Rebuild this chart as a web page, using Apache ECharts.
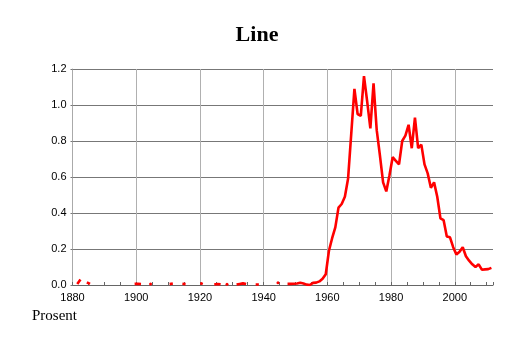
<!DOCTYPE html>
<html><head><meta charset="utf-8">
<script src="https://cdn.jsdelivr.net/npm/echarts@6/dist/echarts.min.js"></script>
<style>html,body{margin:0;padding:0;background:#fff}#c{width:514px;height:343px}</style>
</head><body><div id="c"></div>
<script>
const chartTitle = 'Line';
const unitLabel = 'Prosent';
const xTickLabels = [1880, 1900, 1920, 1940, 1960, 1980, 2000];
const yTickLabels = ['0.0', '0.2', '0.4', '0.6', '0.8', '1.0', '1.2'];
const firstYear = 1880;
const lastYear = 2011;
// sparse early observations (gaps = missing years)
const earlyYears  = [1881, 1882, 1884, 1885, 1899, 1900, 1901, 1904, 1910, 1911, 1914, 1915, 1920, 1924, 1925, 1926, 1928, 1931, 1932, 1933, 1934, 1937, 1938, 1944];
const earlyValues = [0.005, 0.03, 0.015, 0.006, 0.006, 0.007, 0.005, 0.005, 0.005, 0.008, 0.007, 0.005, 0.008, 0.003, 0.006, 0.004, 0.004, 0.003, 0.006, 0.009, 0.005, 0.003, 0.003, 0.012];
// continuous series from 1947 to 2011
const mainStartYear = 1947;
const mainValues = [
  0.006, 0.006, 0.007, 0.008, 0.012, 0.008, 0.002, 0.0, 0.012,        // 1947-1955
  0.013, 0.02, 0.035, 0.06, 0.19, 0.26, 0.32, 0.43, 0.45, 0.49,       // 1956-1965
  0.59, 0.84, 1.09, 0.95, 0.94, 1.16, 1.02, 0.87, 1.12, 0.86,         // 1966-1975
  0.72, 0.57, 0.52, 0.61, 0.71, 0.69, 0.67, 0.80, 0.83, 0.89,         // 1976-1985
  0.76, 0.93, 0.76, 0.78, 0.67, 0.62, 0.54, 0.57, 0.49, 0.37,         // 1986-1995
  0.36, 0.27, 0.265, 0.21, 0.17, 0.185, 0.21, 0.16, 0.135, 0.115,     // 1996-2005
  0.10, 0.115, 0.085, 0.087, 0.088, 0.095                             // 2006-2011
];

const valueByYear = new Map();
earlyYears.forEach((y, i) => valueByYear.set(y, earlyValues[i]));
mainValues.forEach((v, i) => valueByYear.set(mainStartYear + i, v));

const seriesData = [];
for (let y = firstYear; y <= lastYear; y++) {
  const x = y + 0.5; // observation plotted at mid-year
  if (!valueByYear.has(y)) { seriesData.push({ value: [x, '-'] }); continue; }
  const isolated = !valueByYear.has(y - 1) && !valueByYear.has(y + 1);
  const item = { value: [x, valueByYear.get(y)] };
  if (isolated) { item.symbol = 'circle'; item.symbolSize = 3; }
  seriesData.push(item);
}

const vGridColors = xTickLabels.map(() => '#b0b0b0').concat(['rgba(0,0,0,0)']);

const chart = echarts.init(document.getElementById('c'), null, { renderer: 'canvas' });
chart.setOption({
  animation: false,
  backgroundColor: '#fff',
  title: {
    text: chartTitle, left: 'center', top: 19,
    textStyle: { fontFamily: 'Liberation Serif', fontWeight: 'bold', fontSize: 22, color: '#000' }
  },
  graphic: [{
    type: 'text', left: 32, top: 309,
    style: { text: unitLabel, fontFamily: 'Liberation Serif', fontSize: 15, fill: '#000' }
  }],
  grid: { left: 72.5, right: 21, top: 69, bottom: 58, containLabel: false },
  xAxis: [{
    type: 'value', min: 1880, max: 2012, interval: 20,
    axisLine: { show: true, lineStyle: { color: '#666', width: 1 } },
    axisTick: { show: false },
    axisLabel: {
      show: true, showMaxLabel: false, margin: 7,
      fontFamily: 'Liberation Sans', fontSize: 11, color: '#000',
      formatter: v => (xTickLabels.includes(v) ? String(v) : '')
    },
    splitLine: { show: true, lineStyle: { color: vGridColors, width: 1 } }
  }, {
    type: 'value', min: 1880, max: 2012, interval: 5, position: 'bottom',
    axisLine: { show: false },
    axisTick: { show: true, inside: true, length: 3, lineStyle: { color: '#666' } },
    axisLabel: { show: false },
    splitLine: { show: false }
  }],
  yAxis: {
    type: 'value', min: 0, max: 1.2, interval: 0.2,
    axisLine: { show: true, lineStyle: { color: '#aaa' } },
    axisTick: { show: true, length: 2, lineStyle: { color: '#777' } },
    axisLabel: {
      margin: 6, fontFamily: 'Liberation Sans', fontSize: 11, color: '#000',
      formatter: v => yTickLabels[Math.round(v / 0.2)]
    },
    splitLine: { show: true, lineStyle: { color: '#777', width: 1 } }
  },
  series: [{
    type: 'line', xAxisIndex: 0, data: seriesData,
    symbol: 'none', showSymbol: true, connectNulls: false,
    lineStyle: { color: '#ff0000', width: 2.6 },
    itemStyle: { color: '#ff0000' },
    z: 5
  }]
});
</script>
</body></html>
